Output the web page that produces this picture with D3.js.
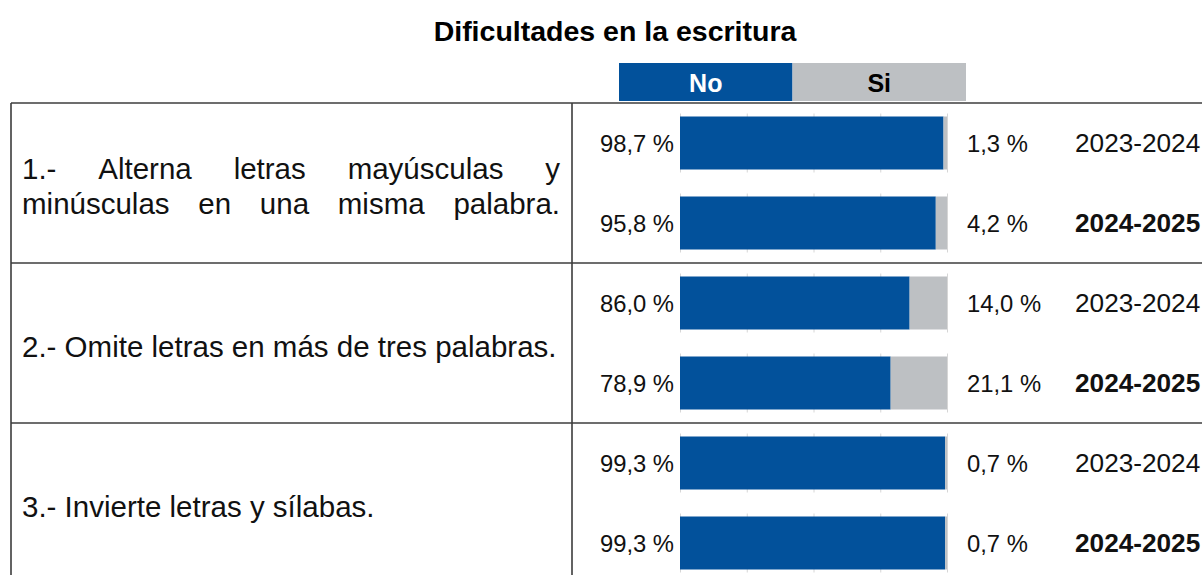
<!DOCTYPE html>
<html>
<head>
<meta charset="utf-8">
<script src="https://cdn.jsdelivr.net/npm/d3@7"></script>
<style>
  html, body { margin: 0; padding: 0; background: #fff; }
  svg { display: block; font-family: "Liberation Sans", Arial, sans-serif; }
</style>
</head>
<body>
<svg id="chart" width="1202" height="575"></svg>
<script>
// Survey items, one entry per item; each entry lists its printed lines
const categoryLines = [
  ["1.- Alterna letras mayúsculas y", "minúsculas en una misma palabra."],
  ["2.- Omite letras en más de tres palabras."],
  ["3.- Invierte letras y sílabas."]
];
const periods = ["2023-2024", "2024-2025"];
const series = ["No", "Si"];
// Shares per item and period (item 1: 23-24, 24-25; item 2: ...; item 3: ...)
const noValues = [98.7, 95.8, 86.0, 78.9, 99.3, 99.3];
const siValues = [1.3, 4.2, 14.0, 21.1, 0.7, 0.7];
const gridTicks = [0, 25, 50, 75, 100];
const title = "Dificultades en la escritura";

const W = 1202, H = 575;
const colors = { No: "#02519B", Si: "#BDC0C3" };
const lineColor = "#3c3c3c";

const svg = d3.select("#chart");

const rows = noValues.map((v, i) => ({
  i,
  item: Math.floor(i / periods.length),
  period: periods[i % periods.length],
  no: v,
  si: siValues[i]
}));

const tableTop = 103, tableBottom = 583;
const x = d3.scaleLinear().domain([0, 100]).range([680, 947]);
const yRow = d3.scaleBand()
  .domain(rows.map(r => r.i))
  .range([tableTop, tableBottom])
  .paddingInner(0.3375)
  .paddingOuter(0.16875);
const yItem = d3.scaleBand()
  .domain(categoryLines.map((d, i) => i))
  .range([tableTop, tableBottom]);
const xLegend = d3.scaleBand().domain(series).range([619, 966]);

// Title
svg.append("text")
  .attr("x", 615).attr("y", 41)
  .attr("text-anchor", "middle")
  .attr("font-size", 28.5).attr("font-weight", "bold")
  .attr("fill", "#000")
  .text(title);

// Legend header
const leg = svg.append("g");
leg.selectAll("rect").data(series).join("rect")
  .attr("x", d => xLegend(d)).attr("y", 63)
  .attr("width", xLegend.bandwidth()).attr("height", 38)
  .attr("fill", d => colors[d]);
leg.selectAll("text").data(series).join("text")
  .attr("x", d => xLegend(d) + xLegend.bandwidth() / 2)
  .attr("y", 83)
  .attr("dy", "0.36em")
  .attr("text-anchor", "middle")
  .attr("font-size", 25).attr("font-weight", "bold")
  .attr("fill", d => d === "No" ? "#fff" : "#000")
  .text(d => d);

// Grid marks behind each bar
const grid = svg.append("g");
rows.forEach(r => {
  grid.selectAll(null).data(gridTicks).join("line")
    .attr("x1", d => x(d) + 0.5).attr("x2", d => x(d) + 0.5)
    .attr("y1", yRow(r.i) - 3)
    .attr("y2", yRow(r.i) + yRow.bandwidth() + 3)
    .attr("stroke", "#d6d6d6").attr("stroke-width", 1);
});

// Stacked bars
const bars = svg.append("g");
bars.selectAll("rect.no").data(rows).join("rect")
  .attr("class", "no")
  .attr("x", x(0))
  .attr("y", d => yRow(d.i))
  .attr("width", d => x(d.no) - x(0))
  .attr("height", yRow.bandwidth())
  .attr("fill", colors.No);
bars.selectAll("rect.si").data(rows).join("rect")
  .attr("class", "si")
  .attr("x", d => x(d.no))
  .attr("y", d => yRow(d.i))
  .attr("width", d => x(d.no + d.si) - x(d.no))
  .attr("height", yRow.bandwidth())
  .attr("fill", colors.Si);

const fmt = v => d3.format(".1f")(v).replace(".", ",") + " %";
const labels = svg.append("g").attr("fill", "#111");
labels.selectAll("text.no").data(rows).join("text")
  .attr("class", "no")
  .attr("x", 674)
  .attr("y", d => yRow(d.i) + yRow.bandwidth() / 2)
  .attr("dy", "0.36em")
  .attr("text-anchor", "end")
  .attr("font-size", 23.8)
  .text(d => fmt(d.no));
labels.selectAll("text.si").data(rows).join("text")
  .attr("class", "si")
  .attr("x", 967)
  .attr("y", d => yRow(d.i) + yRow.bandwidth() / 2)
  .attr("dy", "0.36em")
  .attr("font-size", 23.8)
  .text(d => fmt(d.si));
labels.selectAll("text.period").data(rows).join("text")
  .attr("class", "period")
  .attr("x", 1075)
  .attr("y", d => yRow(d.i) + yRow.bandwidth() / 2)
  .attr("dy", "0.36em")
  .attr("font-size", 26.2)
  .attr("font-weight", d => d.period === periods[periods.length - 1] ? "bold" : "normal")
  .text(d => d.period);

// Item descriptions, justified across the first column
const textLeft = 22, textRight = 560, lineGap = 35, catSize = 29.5;
const cats = svg.append("g").attr("fill", "#111").attr("font-size", catSize);
categoryLines.forEach((lines, k) => {
  const cy = yItem(k) + yItem.bandwidth() / 2 + 3;
  lines.forEach((line, j) => {
    const ly = cy + (j - (lines.length - 1) / 2) * lineGap;
    if (lines.length === 1) {
      cats.append("text").attr("x", textLeft).attr("y", ly)
        .attr("dy", "0.36em").text(line);
      return;
    }
    const words = line.split(" ");
    const nodes = words.map(w => cats.append("text")
      .attr("y", ly).attr("dy", "0.36em").text(w));
    const widths = nodes.map(n => n.node().getComputedTextLength());
    const gap = (textRight - textLeft - d3.sum(widths)) / (words.length - 1);
    let cx = textLeft;
    nodes.forEach((n, m) => { n.attr("x", cx); cx += widths[m] + gap; });
  });
});

// Table rules
const rules = svg.append("g").attr("stroke", lineColor).attr("stroke-width", 1.6);
rules.append("line").attr("x1", 11).attr("x2", W).attr("y1", tableTop).attr("y2", tableTop);
rules.selectAll("line.sep").data(categoryLines.slice(1).map((d, i) => i + 1)).join("line")
  .attr("class", "sep")
  .attr("x1", 11).attr("x2", W)
  .attr("y1", d => yItem(d)).attr("y2", d => yItem(d));
rules.append("line").attr("x1", 11).attr("x2", 11).attr("y1", tableTop).attr("y2", H);
rules.append("line").attr("x1", 572).attr("x2", 572).attr("y1", tableTop).attr("y2", H);
</script>
</body>
</html>
